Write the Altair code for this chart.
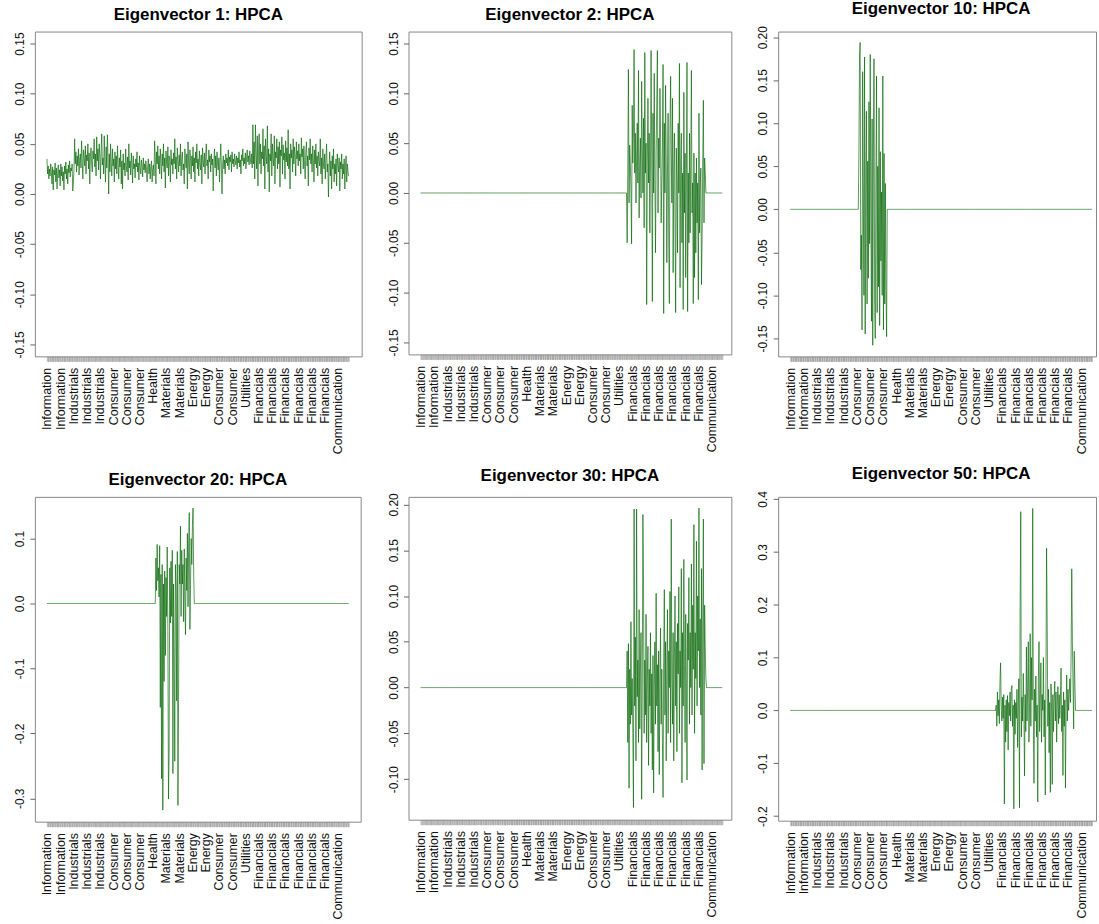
import json
import altair as alt
import pandas as pd

N_STOCKS = 480
LABEL_STEP = 21
tick_labels = ["Information", "Information", "Industrials", "Industrials", "Industrials",
               "Consumer", "Consumer", "Consumer", "Health", "Materials", "Materials",
               "Energy", "Energy", "Consumer", "Consumer", "Utilities",
               "Financials", "Financials", "Financials", "Financials", "Financials",
               "Financials", "Communication"]

# loadings in thousandths
ev1_milli = [
    35, 20, 28, 15, 25, 18, 30, 22, 10, 27, 4, 24, 19, 31, 12, 26, 5, 21, 29, 16,
    24, 8, 30, 18, 27, 13, 22, 4, 28, 20, 32, 15, 25, 10, 29, 21, 33, 17, 26, 23,
    30, 3, 12, 25, 55, 30, 42, 22, 38, 28, 45, 19, 35, 40, 26, 53, 32, 15, 44, 36,
    28, 48, 20, 39, 33, 50, 25, 41, 10, 37, 46, 30, 22, 43, 35, 55, 27, 40, 18, 57,
    33, 45, 24, 50, 38, 15, 42, 60, 29, 36, 20, 58, 31, 12, 47, 26, 59, 35, 0, 40,
    22, 50, 30, 18, 45, 28, 35, 12, 42, 25, 38, 20, 48, 30, 15, 36, 27, 44, 10, 33,
    5, 40, 24, 31, 18, 45, 28, 22, 37, 14, 50, 26, 33, 19, 41, 29, 11, 38, 25, 30,
    16, 35, 27, 42, 22, 31, 14, 38, 26, 20, 34, 28, 17, 36, 24, 30, 21, 33, 26, 12,
    28, 35, 20, 30, 15, 27, 33, 12, 25, 29, 18, 53, 35, 10, 42, 30, 48, 25, 38, 20,
    45, 32, 15, 40, 28, 50, 22, 36, 6, 43, 31, 26, 47, 18, 38, 33, 12, 44, 29, 35,
    20, 41, 30, 55, 25, 37, 15, 46, 32, 22, 39, 28, 50, 18, 35, 42, 24, 30, 10, 45,
    33, 26, 40, 5, 52, 30, 20, 44, 35, 15, 38, 28, 47, 22, 36, 12, 42, 31, 50, 25,
    35, 18, 43, 30, 24, 39, 10, 46, 33, 27, 41, 20, 37, 50, 28, 34, 15, 44, 32, 38,
    22, 40, 29, 35, 3, 31, 45, 26, 38, 18, 42, 30, 24, 36, 12, 33, 50, 27, 0, 30,
    38, 25, 34, 20, 40, 31, 36, 28, 44, 24, 37, 32, 39, 22, 42, 30, 35, 27, 40, 33,
    29, 38, 25, 36, 31, 42, 27, 34, 20, 39, 33, 45, 28, 36, 30, 41, 25, 37, 44, 32,
    38, 29, 43, 35, 30, 40, 26, 69, 30, 52, 15, 69, 40, 25, 58, 8, 45, 60, 30, 50,
    20, 42, 35, 65, 28, 48, 5, 55, 38, 30, 68, 22, 45, 2, 40, 33, 60, 18, 50, 35,
    28, 58, 10, 42, 36, 55, 25, 47, 30, 52, 7, 44, 38, 57, 20, 49, 34, 41, 15, 53,
    32, 46, 28, 64, 25, 40, 5, 50, 36, 44, 22, 55, 30, 47, 38, 18, 52, 35, 43, 28,
    50, 33, 40, 20, 56, 37, 45, 25, 48, 30, 15, 42, 52, 28, 38, 8, 46, 34, 55, 30,
    40, 22, 48, 35, 12, 44, 30, 50, 26, 38, 18, 42, 33, 28, 55, 20, 36, 10, 45, 30,
    25, 40, 15, 35, 50, 22, 30, -3, 28, 42, 18, 33, 5, 38, 25, 45, 12, 30, 20, 35,
    8, 40, 28, 22, 36, 3, 32, 25, 40, 15, 30, 20, 35, 5, 28, 38, 12, 30, 22, 18,
]

ev2_start = 328
ev2_block_milli = [
    -50, 20, 124, -10, 48, 30, 5, -51, 88, 30,
    60, 144, 20, 60, -10, 35, 70, 10, 123, -25,
    28, 55, -5, 112, 45, 0, 75, -35, 141, 20,
    50, -112, 30, 95, 10, 60, -40, 25, 143, 35,
    -109, 80, 0, 120, 15, -60, 40, 90, 143, -20,
    55, 25, 105, 60, -30, 10, 45, 129, -121, 70,
    0, 108, 30, -70, 20, 80, -45, -111, 65, 117,
    40, -10, 95, -80, 25, 60, -30, -120, 45, 10,
    -60, 70, 0, 130, -95, 30, 60, -50, 20, -117,
    101, -20, 40, -85, 10, 131, -119, 20, -50, 60,
    -40, 30, 123, -20, 10, -111, 40, -85, 20, -60,
    35, -30, 10, -107, 80, -40, 5, 25, -92, -45,
    30, 93, -30, 35, 20,
]

ev10_start = 109
ev10_block_milli = [
    60, 178, 194, -70, -30, -140, 160, 20, -100, 177,
    -145, 40, 114, -110, 56, -80, 125, -40, 180, 0,
    -130, 105, -158, 60, 175, -100, -150, 30, 155, -120,
    50, -90, 118, -135, 67, -60, 20, -100, 155, -140,
    65, -110, 30, -90, -148,
]

ev20_start = 172
ev20_block_milli = [
    0, 70, 20, 91, 35, 55, 10, 89, -160, 45,
    -270, 60, -318, 30, -120, 50, -80, 40, -20, 87,
    -40, -301, -230, 55, -30, 65, -20, 82, -262, 30,
    -100, -243, 60, 20, -150, 80, -311, -148, 60, 30,
    119, -20, 82, 30, 60, -28, 84, 10, -48, 70,
    20, 108, -5, 90, 140, -40, 30, 100, 60, 120,
    147, 45,
]

ev30_start = 328
ev30_block_milli = [
    40, -60, 48, -110, 20, -40, 72, -30, 10, -50,
    -131, 195, -20, 55, -80, 195, -10, 30, -60, 85,
    -45, 20, 60, -122, 0, 189, 113, -50, 30, -30,
    80, -60, 10, 45, -85, 20, -20, 60, -50, 15,
    -90, 35, -115, 0, 50, -40, 103, -20, 25, -70,
    40, -95, 10, 65, -40, 20, -60, -120, 30, 107,
    -30, 50, -80, 20, 85, -50, 40, 0, 105, -60,
    184, 10, -40, 60, -80, 30, 100, -20, 50, -70,
    70, 15, 110, -50, 40, 0, 130, -104, 60, -20,
    140, 25, -60, 80, 10, -101, 70, 30, 120, -40,
    60, 0, 135, -30, 90, 20, 178, -50, 60, 10,
    160, -20, 100, 40, 196, 0, 75, -30, 130, -90,
    65, 184, -83, 90, 40, 10,
]

ev50_start = 327
ev50_block_milli = [
    10, -30, 35, -10, 20, -25, 55, 90, 5, -20,
    25, -15, 30, -177, 10, -60, 20, -40, 28, -75,
    15, -10, 35, -20, 40, 47, -30, 10, -186, 20,
    -45, 15, -15, 40, -70, 10, 60, -184, 190, 376,
    -50, 25, -20, 70, 0, -124, 30, -40, 120, -20,
    45, 130, -60, 15, 145, -30, 100, 20, 382, -10,
    -138, 40, -20, 65, -50, 10, -173, 60, 130, -40,
    20, 90, -60, 30, 0, 100, -50, 20, -160, 50,
    307, 165, -30, 40, -80, 15, -155, 50, 0, -140,
    30, -40, 20, 55, -20, 35, -60, 10, 45, -25,
    30, -15, 20, 80, -40, 10, -123, 35, -30, 20,
    -147, 10, 67, -20, 40, 0, 30, 60, 15, 110,
    268, 130, 50, -35, 112, 50,
]


def full_series(start, block):
    vals = [0] * start + list(block)
    vals = vals + [0] * (N_STOCKS - len(vals))
    return [v / 1000.0 for v in vals[:N_STOCKS]]


series = {
    1: [v / 1000.0 for v in ev1_milli],
    2: full_series(ev2_start, ev2_block_milli),
    10: full_series(ev10_start, ev10_block_milli),
    20: full_series(ev20_start, ev20_block_milli),
    30: full_series(ev30_start, ev30_block_milli),
    50: full_series(ev50_start, ev50_block_milli),
}

FULL_W = 327.0
X_MIN = -19.16
X_SPAN = 517.32

FONT = "Liberation Sans"
LINE_COLOR = "#006400"
labels_js = json.dumps(tick_labels)
x_label_expr = (f"datum.value % {LABEL_STEP} == 0 ? {labels_js}[round(datum.value / {LABEL_STEP})] : ''")


def panel(ev, width, height, ydomain, yticks, ydec):
    df = pd.DataFrame({"idx": list(range(N_STOCKS)), "v": series[ev]})
    xmax = X_MIN + X_SPAN * width / FULL_W
    dx = (FULL_W - width) / 2 if width < 322 else 0
    y_expr = f"replace(format(datum.value, '.{ydec}f'), '\u2212', '-')"
    return alt.Chart(df).mark_line(
        color=LINE_COLOR, strokeWidth=1, opacity=0.65, clip=True
    ).encode(
        x=alt.X("idx:Q",
                scale=alt.Scale(domain=[X_MIN, xmax], nice=False, zero=False),
                axis=alt.Axis(values=list(range(N_STOCKS)), labelExpr=x_label_expr,
                              labelAngle=270, labelAlign="right", labelBaseline="middle",
                              labelOverlap=False, labelFlush=False, labelFontSize=12.5,
                              tickSize=5, labelPadding=6, tickWidth=0.5, tickColor="#8a8a8a",
                              grid=False, domain=False, title=None)),
        y=alt.Y("v:Q",
                scale=alt.Scale(domain=ydomain, nice=False, zero=False),
                axis=alt.Axis(values=yticks, labelExpr=y_expr, labelAngle=270,
                              labelAlign="center", labelBaseline="alphabetic",
                              labelOverlap=False, labelFlush=False, labelFontSize=12,
                              tickSize=5, labelPadding=6.5, tickColor="#666666",
                              grid=False, domain=False, title=None)),
    ).properties(
        width=width, height=height,
        title=alt.TitleParams(f"Eigenvector {ev}: HPCA", font=FONT, fontSize=17,
                              fontWeight="bold", color="#000000", anchor="middle",
                              frame="group", offset=-5, baseline="alphabetic", dx=dx),
    )


p1 = panel(1, 328, 326, [-0.162, 0.162], [-0.15, -0.1, -0.05, 0, 0.05, 0.1, 0.15], 2)
p2 = panel(2, 324, 324, [-0.162, 0.162], [-0.15, -0.1, -0.05, 0, 0.05, 0.1, 0.15], 2)
p3 = panel(10, 319, 326, [-0.1709, 0.2066], [-0.15, -0.1, -0.05, 0, 0.05, 0.1, 0.15, 0.2], 2)
p4 = panel(20, 327, 326, [-0.336, 0.1642], [-0.3, -0.2, -0.1, 0, 0.1], 1)
p5 = panel(30, 324, 324, [-0.1443, 0.2083], [-0.1, -0.05, 0, 0.05, 0.1, 0.15, 0.2], 2)
p6 = panel(50, 319, 325, [-0.2086, 0.404], [-0.2, -0.1, 0, 0.1, 0.2, 0.3, 0.4], 1)

chart = alt.concat(
    p1, p2, p3, p4, p5, p6, columns=3, bounds="flush",
    spacing={"row": 141, "column": 47},
).properties(
    padding={"left": 12, "top": -3, "right": 0, "bottom": 0},
    background="white",
).configure_view(
    stroke="#888888", strokeWidth=1
).configure_axis(
    domain=False, grid=False, labelFont=FONT, labelColor="#111111"
)

chart.save("out.html", embed_options={"renderer": "svg", "actions": False})
